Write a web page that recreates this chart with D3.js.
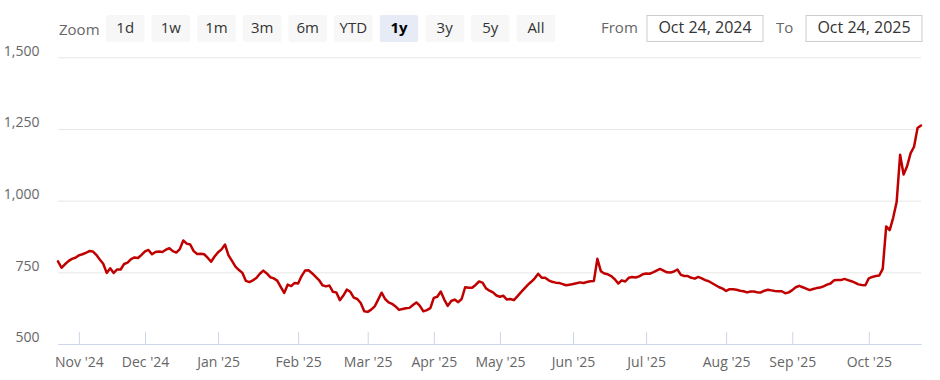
<!DOCTYPE html>
<html><head><meta charset="utf-8">
<script src="https://cdn.jsdelivr.net/npm/d3@7"></script>
<style>
html,body{margin:0;padding:0;background:#fff;}
svg{display:block;font-family:"Open Sans",sans-serif;}
</style></head><body>
<svg id="chart" width="940" height="380"></svg>
<script>
// ---- data ----
const startDate = "2024-10-24";
const endDate = "2025-10-24";
const holidays = ["2024-11-15","2024-11-20","2024-12-25","2025-02-26","2025-03-14","2025-03-31",
  "2025-04-10","2025-04-14","2025-04-18","2025-05-01","2025-08-15","2025-08-27","2025-10-02","2025-10-22"];
const specialSessions = ["2025-02-01"];
const prices = [
788,766,778,789,797,801,809,813,818,824,
823,811,795,780,748,764,748,760,760,779,
784,796,802,800,811,823,828,813,821,823,
821,829,834,824,819,831,861,850,847,824,
814,815,813,801,787,805,820,830,847,809,
790,770,758,748,720,716,722,730,745,756,
746,733,729,721,699,678,707,702,713,711,
737,756,757,747,735,723,705,701,704,682,
680,653,669,690,682,662,657,643,614,612,
620,631,655,679,657,645,640,631,619,622,
625,626,636,645,633,614,618,625,661,665,
683,655,633,650,655,646,657,698,696,696,
706,718,714,694,686,680,669,665,668,655,
657,653,666,680,693,706,717,729,745,731,
731,722,717,714,713,709,705,707,709,712,
715,713,716,719,720,797,754,746,743,737,
726,711,722,718,731,734,732,736,743,746,
745,750,756,762,756,750,749,753,760,741,
737,737,731,728,734,729,723,719,712,705,
698,693,685,691,691,689,686,684,680,683,
683,680,680,686,689,687,685,684,684,677,
680,688,698,703,698,693,688,692,695,697,
701,707,711,722,723,723,727,723,719,714,
708,706,705,729,734,737,739,762,910,897,
940,995,1160,1091,1120,1165,1188,1253,1262
];
const yTicks = [500, 750, 1000, 1250, 1500];
const zoomButtons = ["1d","1w","1m","3m","6m","YTD","1y","3y","5y","All"];
const selectedButton = "1y";
const rangeFrom = "Oct 24, 2024";
const rangeTo = "Oct 24, 2025";

// ---- trading calendar ----
const parse = d3.utcParse("%Y-%m-%d"), key = d3.utcFormat("%Y-%m-%d");
const dates = d3.utcDays(parse(startDate), d3.utcDay.offset(parse(endDate), 1)).filter(d => {
  const k = key(d), wd = d.getUTCDay();
  return (wd !== 0 && wd !== 6 && !holidays.includes(k)) || specialSessions.includes(k);
});
const n = Math.min(dates.length, prices.length);
const data = d3.range(n).map(i => ({date: dates[i], value: prices[i]}));

// ---- layout ----
const svg = d3.select("#chart");
const pLeft = 58, pRight = 921, pTop = 57.3, pBottom = 344;
const x = d3.scaleLinear().domain([0, n - 1]).range([pLeft, pRight]);
const y = d3.scaleLinear().domain([500, 1500]).range([pBottom, pTop]);

// y grid + labels
const yAxis = d3.axisLeft(y).tickValues(yTicks).tickFormat(d3.format(",")).tickSize(-(pRight - pLeft)).tickPadding(18.5);
const gy = svg.append("g").attr("transform", `translate(${pLeft},0)`).call(yAxis);
gy.select(".domain").remove();
gy.selectAll(".tick line").attr("stroke", "#e6e6e6").attr("stroke-width", 1);
gy.selectAll(".tick text").attr("fill", "#666").attr("font-size", 14).attr("dy", "-0.15em")
  .attr("font-family", "Open Sans, sans-serif");

// x axis (ordinal by trading day)
const tickIdx = d3.range(1, n).filter(i => dates[i].getUTCMonth() !== dates[i - 1].getUTCMonth());
const fmtMonth = d3.utcFormat("%b '%y");
const xAxis = d3.axisBottom(x).tickValues(tickIdx).tickFormat(i => fmtMonth(dates[i]))
  .tickSizeInner(-12).tickSizeOuter(0).tickPadding(13.5);
const gx = svg.append("g").attr("transform", `translate(0,${pBottom})`).call(xAxis);
gx.select(".domain").attr("stroke", "#ccd6eb");
gx.selectAll(".tick line").attr("stroke", "#ccd6eb");
gx.selectAll(".tick text").attr("fill", "#666").attr("font-size", 14).attr("font-family", "Open Sans, sans-serif");

// line
const line = d3.line().x((d, i) => x(i)).y(d => y(d.value));
svg.append("path").datum(data).attr("d", line).attr("fill", "none")
  .attr("stroke", "#c00000").attr("stroke-width", 2.5).attr("stroke-linejoin", "round").attr("stroke-linecap", "round");

// ---- range selector ----
const rs = svg.append("g").attr("font-family", "Open Sans, sans-serif");
rs.append("text").attr("x", 59).attr("y", 34.5).attr("font-size", 15).attr("fill", "#666").text("Zoom");
const btnStart = 106, btnStep = 45.63, btnW = 38.5, btnY = 15, btnH = 27;
const btn = rs.selectAll("g.btn").data(zoomButtons).join("g").attr("class", "btn")
  .attr("transform", (d, i) => `translate(${btnStart + i * btnStep},${btnY})`);
btn.append("rect").attr("width", btnW).attr("height", btnH).attr("rx", 2)
  .attr("fill", d => d === selectedButton ? "#e6ebf5" : "#f7f7f7");
btn.append("text").attr("x", btnW / 2).attr("y", 17.5).attr("text-anchor", "middle")
  .attr("font-size", 15).attr("fill", d => d === selectedButton ? "#000" : "#333")
  .attr("font-weight", d => d === selectedButton ? "bold" : "normal").text(d => d);

rs.append("text").attr("x", 601).attr("y", 32.7).attr("font-size", 15).attr("fill", "#666").text("From");
rs.append("rect").attr("x", 647).attr("y", 15.5).attr("width", 116).attr("height", 26).attr("fill", "#fff").attr("stroke", "#ccc");
rs.append("text").attr("x", 705).attr("y", 32.7).attr("text-anchor", "middle").attr("font-size", 16).attr("fill", "#333").text(rangeFrom);
rs.append("text").attr("x", 776).attr("y", 32.7).attr("font-size", 15).attr("fill", "#666").text("To");
rs.append("rect").attr("x", 806).attr("y", 15.5).attr("width", 116).attr("height", 26).attr("fill", "#fff").attr("stroke", "#ccc");
rs.append("text").attr("x", 864).attr("y", 32.7).attr("text-anchor", "middle").attr("font-size", 16).attr("fill", "#333").text(rangeTo);
</script>
</body></html>
